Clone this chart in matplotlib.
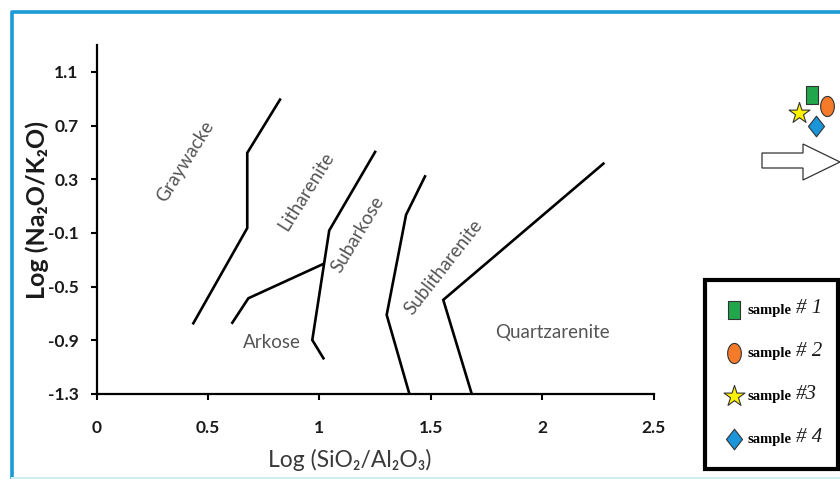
import matplotlib
matplotlib.use("Agg")
import matplotlib.pyplot as plt
import numpy as np
from matplotlib.lines import Line2D
from matplotlib.path import Path
from matplotlib.patches import Polygon
from matplotlib.transforms import IdentityTransform

plt.rcParams["font.family"] = ["Lato", "DejaVu Sans"]

# boundary lines of the classification diagram (x = log SiO2/Al2O3, y = log Na2O/K2O)
GRAYWACKE_X = [0.823, 0.676, 0.676, 0.434]
GRAYWACKE_Y = [0.893, 0.496, -0.064, -0.773]
ARKOSE_X = [0.609, 0.681, 1.018]
ARKOSE_Y = [-0.769, -0.587, -0.331]
SUBARKOSE_X = [1.250, 1.044, 0.968, 1.018]
SUBARKOSE_Y = [0.503, -0.082, -0.898, -1.034]
SUBLITH_X = [1.474, 1.389, 1.302, 1.404]
SUBLITH_Y = [0.321, 0.035, -0.711, -1.30]
QUARTZ_X = [2.275, 1.556, 1.684]
QUARTZ_Y = [0.416, -0.599, -1.30]

# field names
FIELD_NAMES = ["Graywacke", "Litharenite", "Subarkose", "Sublitharenite", "Arkose", "Quartzarenite"]
FIELD_X = [0.397, 0.94, 1.174, 1.555, 0.788, 2.045]
FIELD_Y = [0.43, 0.21, -0.114, -0.357, -0.913, -0.843]
FIELD_ROT = [58, 58, 59, 52, 0, 0]

# samples
SAMPLE_NAMES = ["sample", "sample", "sample", "sample"]
SAMPLE_NUMS = ["# 1", "# 2", "#3", "# 4"]
SAMPLE_X = [3.213, 3.278, 3.155, 3.230]
SAMPLE_Y = [0.925, 0.844, 0.794, 0.694]

X_TICKS = [0, 0.5, 1, 1.5, 2, 2.5]
Y_TICKS = [-1.3, -0.9, -0.5, -0.1, 0.3, 0.7, 1.1]

# the source image is stretched vertically, so the markers are tall
t = np.linspace(0, 2 * np.pi, 60)
ELLIPSE = Path(np.column_stack([0.68 * np.cos(t), np.sin(t)]), closed=True)
TALL_SQ = Path([(-0.66, -1), (0.66, -1), (0.66, 1), (-0.66, 1), (-0.66, -1)], closed=True)
TALL_DIA = Path([(0, -1), (0.78, 0), (0, 1), (-0.78, 0), (0, -1)], closed=True)

SAMPLE_STYLE = [
    dict(marker=TALL_SQ, color="#21A64B", s=170),
    dict(marker=ELLIPSE, color="#F57B2B", s=210),
    dict(marker="*", color="#FFF200", s=250),
    dict(marker=TALL_DIA, color="#1B95DA", s=220),
]

fig = plt.figure(figsize=(8.4, 4.79), dpi=100)
fig.patch.set_facecolor("white")
ax = fig.add_axes([0.1151, 0.1775, 0.6629, 0.7286])

for xs, ys in [(GRAYWACKE_X, GRAYWACKE_Y), (ARKOSE_X, ARKOSE_Y), (SUBARKOSE_X, SUBARKOSE_Y),
               (SUBLITH_X, SUBLITH_Y), (QUARTZ_X, QUARTZ_Y)]:
    ax.plot(xs, ys, color="black", lw=1.9, solid_joinstyle="miter", zorder=3)

for name, x, y, r in zip(FIELD_NAMES, FIELD_X, FIELD_Y, FIELD_ROT):
    ax.text(x, y, name, rotation=r, ha="center", va="center", fontsize=13.5,
            color="#555555", rotation_mode="anchor")

handles = []
for lab, x, y, st in zip(SAMPLE_NAMES, SAMPLE_X, SAMPLE_Y, SAMPLE_STYLE):
    h = ax.scatter([x], [y], marker=st["marker"], s=st["s"], color=st["color"],
                   edgecolor="#333333", linewidth=0.8, clip_on=False, zorder=5, label=lab)
    handles.append(h)

ax.set_xlim(0, 2.5)
ax.set_ylim(-1.3, 1.3)
ax.set_xticks(X_TICKS)
ax.set_xticklabels([f"{v:g}" for v in X_TICKS])
ax.set_yticks(Y_TICKS)
ax.set_yticklabels([f"{v:.1f}" for v in Y_TICKS])
for sp in ("top", "right"):
    ax.spines[sp].set_visible(False)
for sp in ("left", "bottom"):
    ax.spines[sp].set_linewidth(1.6)
ax.tick_params(axis="both", direction="out", length=4, width=1.5, labelsize=12.5,
               labelcolor="#1a1a1a")
ax.tick_params(axis="x", pad=15)
ax.tick_params(axis="y", pad=9)
for lbl in ax.get_xticklabels() + ax.get_yticklabels():
    lbl.set_fontweight("bold")

ax.set_xlabel("Log (SiO₂/Al₂O₃)", fontsize=16.5, color="#3a3a3a", va="center")
ax.xaxis.set_label_coords(0.455, -0.19)
ax.set_ylabel("Log (Na₂O/K₂O)", fontsize=18, fontweight="bold", color="#1a1a1a",
              va="center", ha="center")
ax.yaxis.set_label_coords(-0.107, 0.527)

leg = fig.legend(handles=handles, loc="upper left",
                 bbox_to_anchor=(705 / 840, 1 - 470 / 479, 133 / 840, 190 / 479), mode="expand",
                 borderaxespad=0, frameon=True, fancybox=False, framealpha=1,
                 labelspacing=2.05, handletextpad=0.5, borderpad=1.6, handlelength=0.8,
                 prop={"family": "Liberation Serif", "size": 10.5, "weight": "bold"})
leg.get_frame().set_edgecolor("black")
leg.get_frame().set_linewidth(3)

# larger italic number after each legend entry
fig.canvas.draw()
for txt, num in zip(leg.get_texts(), SAMPLE_NUMS):
    bb = txt.get_window_extent()
    fig.text(bb.x1 + 5, (bb.y0 + bb.y1) / 2 + 2, num, transform=IdentityTransform(),
             fontsize=15, family="Liberation Serif", style="italic",
             ha="left", va="center", color="#1a1a1a", zorder=10)

# hollow arrow pointing to the legend
arrow_px = [(762, 153), (803, 153), (803, 144), (840, 162), (803, 180), (803, 168), (762, 168)]
fig.patches.append(Polygon([(x / 840, 1 - y / 479) for x, y in arrow_px], closed=True,
                           facecolor="white", edgecolor="#333333", lw=0.9,
                           transform=fig.transFigure))

# blue frame
fig.lines.append(Line2D([12 / 840, 12 / 840, 1.0], [1 - 477 / 479, 1 - 11.5 / 479, 1 - 11.5 / 479],
                        color="#1C9AD6", lw=2.6, transform=fig.transFigure))
fig.lines.append(Line2D([12 / 840, 1.0], [1 - 477.5 / 479, 1 - 477.5 / 479],
                        color="#CDEFF2", lw=1.5, transform=fig.transFigure))

fig.savefig("out.png", dpi=100)
